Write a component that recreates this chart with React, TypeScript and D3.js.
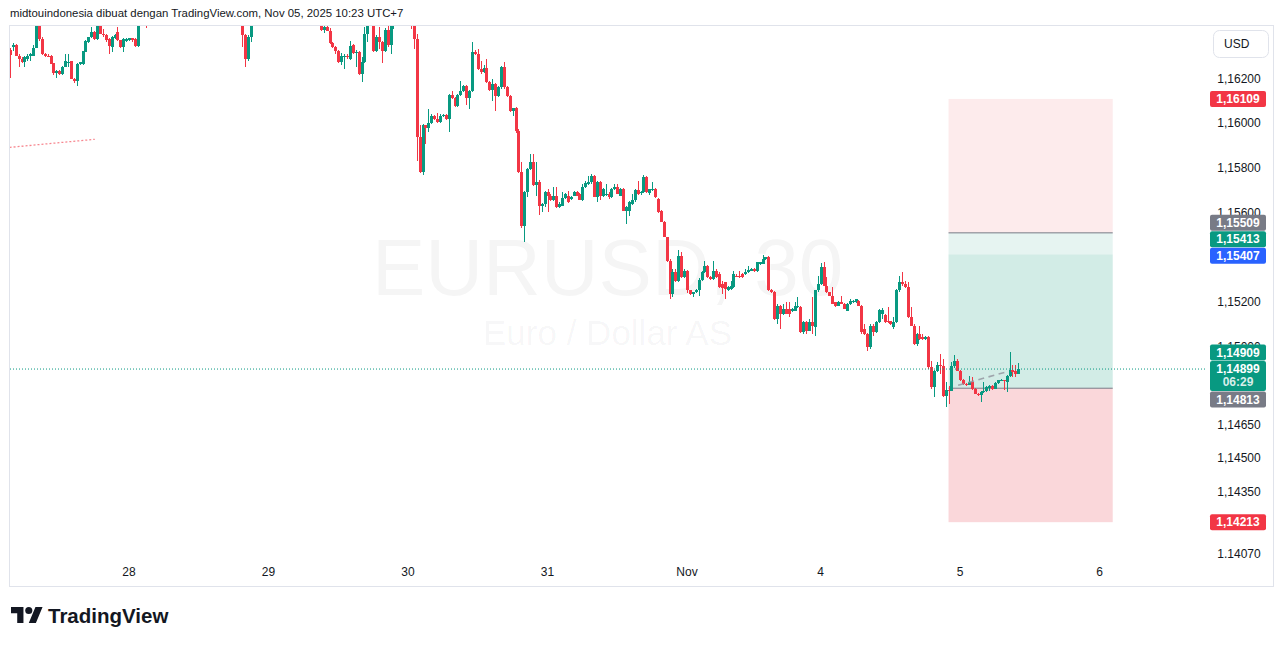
import React from 'react';
import * as d3 from 'd3';

// Each bar: [open, high, low, close] in points (1e-5) above BASE, 30-minute bars
type Bar = [number, number, number, number];
const BASE = 1.14;
const POINT = 0.00001;

const oct27: Bar[] = [
  [2330,2335,2203,2305],[2340,2358,2322,2352],[2352,2355,2300,2303],[2303,2311,2251,2290],[2290,2296,2270,2273],
  [2273,2300,2254,2296],[2288,2311,2281,2303],[2303,2315,2281,2311],[2303,2350,2300,2338],[2338,2460,2335,2440],
  [2440,2450,2370,2378],[2378,2385,2305,2311],[2311,2315,2296,2300],[2303,2308,2296,2300],[2303,2306,2264,2266],
  [2268,2270,2215,2224],[2224,2240,2203,2236],[2236,2240,2218,2221],[2221,2256,2218,2254],[2254,2311,2250,2278],
  [2272,2311,2251,2276],[2278,2280,2196,2199],[2199,2203,2180,2188],[2188,2270,2169,2266],[2266,2276,2262,2273],
  [2266,2325,2262,2322],[2320,2375,2318,2370],[2365,2388,2360,2385],[2385,2430,2380,2407],[2407,2415,2375,2378],
  [2378,2460,2375,2445],[2445,2465,2398,2402],[2402,2420,2385,2395],[2395,2400,2365,2372],[2378,2382,2311,2348],
  [2340,2390,2318,2385],[2382,2400,2378,2397],[2407,2430,2370,2372],[2372,2375,2336,2340],[2340,2380,2318,2378],
  [2370,2383,2366,2378],
];
const oct28: Bar[] = [
  [2372,2383,2368,2380],[2380,2384,2365,2372],[2376,2380,2340,2345],[2345,2470,2340,2455],[2455,2480,2445,2470],
  [2470,2490,2455,2462],[2462,2470,2428,2450],[2450,2478,2440,2472],[2472,2495,2465,2488],[2488,2510,2480,2502],
  [2502,2515,2490,2495],[2495,2505,2480,2490],[2490,2512,2485,2508],[2508,2525,2500,2520],[2520,2530,2505,2512],
  [2512,2520,2495,2500],[2500,2515,2492,2510],[2510,2535,2505,2528],[2528,2545,2518,2538],[2538,2550,2525,2530],
  [2530,2540,2515,2520],[2520,2530,2505,2512],[2512,2522,2498,2505],[2505,2518,2495,2515],[2515,2530,2508,2525],
  [2525,2535,2510,2515],[2515,2520,2495,2500],[2500,2510,2485,2490],[2490,2505,2480,2498],[2498,2512,2490,2505],
  [2505,2515,2492,2495],[2495,2500,2475,2480],[2480,2492,2470,2488],[2488,2498,2478,2482],[2482,2490,2465,2470],
  [2470,2485,2462,2478],[2478,2488,2468,2472],[2472,2480,2455,2460],[2460,2470,2445,2452],[2452,2465,2340,2395],
  [2395,2400,2251,2288],[2288,2397,2278,2388],[2388,2465,2363,2450],[2450,2470,2440,2462],[2462,2480,2455,2475],
  [2475,2490,2465,2470],[2470,2485,2460,2480],[2480,2495,2472,2490],
];
const oct29: Bar[] = [
  [2490,2505,2480,2498],[2498,2510,2488,2495],[2495,2502,2478,2485],[2485,2498,2475,2492],[2492,2508,2485,2502],
  [2502,2515,2494,2508],[2508,2520,2495,2500],[2500,2510,2488,2492],[2492,2500,2478,2485],[2485,2495,2472,2478],
  [2478,2490,2468,2486],[2486,2496,2475,2480],[2480,2488,2465,2470],[2470,2482,2460,2476],[2476,2485,2462,2468],
  [2468,2478,2455,2462],[2462,2472,2450,2458],[2458,2468,2445,2450],[2450,2462,2412,2418],[2418,2440,2405,2430],
  [2430,2445,2412,2415],[2415,2425,2355,2358],[2358,2365,2338,2340],[2340,2348,2311,2325],[2325,2330,2268,2273],
  [2273,2313,2263,2303],[2296,2311,2244,2303],[2303,2308,2290,2296],[2290,2370,2284,2348],[2350,2355,2310,2313],
  [2313,2330,2251,2318],[2321,2325,2218,2221],[2221,2296,2184,2273],[2273,2430,2270,2400],[2400,2460,2363,2445],
  [2445,2475,2435,2465],[2465,2470,2320,2325],[2325,2395,2320,2388],[2388,2430,2333,2363],[2363,2370,2269,2325],
  [2325,2425,2320,2418],[2418,2440,2340,2352],[2352,2450,2311,2440],[2440,2465,2423,2458],[2458,2475,2445,2468],
  [2468,2485,2455,2475],[2475,2490,2460,2470],[2470,2480,2452,2462],
];
const oct30: Bar[] = [
  [2462,2478,2448,2455],[2455,2470,2420,2440],[2440,2448,2333,2378],[2378,2400,1833,1937],[1937,1990,1775,1780],
  [1780,1997,1769,1990],[1990,1993,1907,1977],[1977,2064,1963,2002],[2002,2040,1995,2034],[2034,2038,2015,2020],
  [2020,2046,2003,2007],[2007,2040,2003,2034],[2034,2042,2028,2037],[2037,2040,2015,2020],[2020,2130,1963,2127],
  [2127,2146,2108,2112],[2112,2116,2075,2079],[2079,2130,2075,2127],[2127,2191,2120,2146],[2146,2172,2140,2166],
  [2166,2170,2082,2112],[2112,2150,2064,2146],[2146,2366,2140,2321],[2321,2330,2305,2311],[2311,2334,2240,2244],
  [2244,2280,2222,2228],[2228,2260,2224,2246],[2246,2290,2180,2183],[2183,2188,2146,2151],[2151,2199,2101,2176],
  [2176,2180,2057,2124],[2124,2165,2118,2161],[2161,2256,2155,2251],[2251,2276,2155,2161],[2161,2166,2118,2124],
  [2124,2128,2050,2057],[2057,2070,2034,2067],[2067,2072,1957,1967],[1967,1972,1778,1783],[1783,1825,1529,1541],
  [1541,1698,1467,1691],[1691,1800,1668,1795],[1795,1863,1790,1825],[1825,1863,1720,1724],[1724,1825,1676,1739],
  [1739,1745,1590,1628],[1631,1642,1601,1639],[1639,1698,1624,1691],
];
const oct31: Bar[] = [
  [1691,1706,1601,1676],[1676,1684,1650,1654],[1654,1713,1650,1676],[1676,1713,1620,1624],[1624,1645,1620,1639],
  [1631,1691,1628,1666],[1666,1688,1662,1684],[1676,1698,1643,1646],[1660,1676,1655,1668],[1676,1698,1672,1691],
  [1691,1695,1672,1676],[1684,1688,1655,1657],[1657,1728,1650,1713],[1713,1743,1708,1731],[1728,1765,1722,1735],
  [1735,1773,1730,1765],[1765,1770,1668,1668],[1668,1740,1646,1735],[1735,1740,1654,1676],[1676,1710,1670,1706],
  [1680,1728,1676,1684],[1684,1690,1661,1668],[1668,1710,1665,1706],[1706,1728,1700,1716],[1716,1728,1682,1684],
  [1676,1710,1676,1706],[1706,1712,1606,1609],[1609,1628,1549,1624],[1609,1650,1586,1646],[1639,1684,1635,1657],
  [1657,1705,1646,1701],[1701,1743,1680,1684],[1686,1695,1680,1691],[1691,1769,1688,1758],[1758,1762,1688,1691],
  [1686,1706,1680,1706],[1701,1735,1698,1706],[1706,1710,1665,1668],[1661,1665,1598,1601],[1609,1610,1556,1556],
  [1556,1560,1489,1489],[1489,1492,1380,1385],[1385,1390,1213,1236],[1236,1345,1220,1332],[1332,1345,1288,1295],
  [1295,1430,1288,1407],[1407,1425,1305,1310],[1310,1345,1305,1340],
];
const nov1: Bar[] = [
  [1340,1342,1240,1251],[1251,1255,1230,1236],[1236,1245,1221,1243],[1243,1256,1238,1254],[1251,1305,1228,1300],
  [1300,1340,1295,1335],[1335,1385,1330,1362],[1362,1366,1305,1310],
];
const nov3: Bar[] = [
  [1310,1315,1300,1303],[1303,1385,1300,1340],[1340,1345,1305,1310],[1325,1335,1262,1265],[1280,1292,1236,1262],
  [1288,1290,1213,1258],[1253,1270,1248,1265],[1258,1295,1255,1273],[1265,1340,1262,1325],[1317,1325,1310,1313],
  [1317,1340,1305,1310],[1325,1330,1305,1310],[1325,1347,1320,1332],[1332,1362,1328,1343],[1340,1350,1336,1347],
  [1347,1350,1335,1340],[1340,1380,1335,1377],[1370,1380,1365,1377],[1370,1412,1368,1392],[1392,1402,1388,1400],
  [1400,1407,1250,1251],[1251,1258,1240,1243],[1243,1250,1120,1124],[1124,1190,1100,1183],[1183,1188,1079,1146],
  [1146,1191,1140,1168],[1168,1198,1145,1146],[1168,1198,1131,1146],[1161,1172,1155,1168],[1161,1198,1158,1183],
  [1176,1221,1172,1183],[1176,1183,1060,1064],[1064,1116,1056,1109],[1109,1115,1056,1071],[1071,1124,1068,1109],
  [1109,1221,1056,1094],[1086,1255,1049,1251],[1251,1317,1245,1280],
];
const nov4: Bar[] = [
  [1280,1373,1275,1358],[1358,1377,1270,1273],[1273,1310,1240,1243],[1243,1246,1226,1228],[1228,1265,1190,1191],
  [1198,1200,1176,1183],[1183,1206,1180,1198],[1198,1228,1189,1191],[1191,1195,1166,1168],[1161,1195,1158,1191],
  [1191,1211,1188,1206],[1198,1210,1195,1206],[1200,1213,1195,1211],[1206,1210,1180,1183],[1183,1188,1058,1064],
  [1079,1101,1052,1056],[1056,1060,982,996],[996,1099,990,1094],[1094,1101,1049,1064],[1064,1112,1060,1109],
  [1109,1170,1105,1164],[1146,1172,1124,1164],[1140,1144,1105,1109],[1116,1176,1105,1109],[1112,1116,1098,1101],
  [1086,1131,1080,1109],[1109,1258,1105,1253],[1253,1317,1245,1288],[1288,1332,1272,1280],[1280,1295,1262,1265],
  [1265,1290,1128,1131],[1131,1176,1092,1094],[1094,1101,1005,1012],[1012,1062,1004,1056],[1056,1093,1030,1034],
  [1041,1056,1030,1034],[1034,1045,1028,1041],[1041,1048,900,910],[910,937,810,817],[817,895,773,892],
  [892,929,885,919],[919,967,877,914],[914,944,773,780],[780,843,728,805],[805,825,743,800],
  [800,929,799,914],[914,964,905,934],[934,944,888,892],
];
const nov5: Bar[] = [
  [892,895,845,850],[850,855,828,832],[832,835,822,829],[829,869,826,839],[839,865,806,810],
  [810,812,785,788],[788,792,780,784],[784,800,750,795],[795,843,792,802],[802,822,798,820],
  [812,828,800,825],[825,829,806,810],[810,840,808,835],[835,852,830,850],[847,853,845,850],
  [850,852,805,845],[840,872,795,869],[869,977,865,895],[895,919,862,884],[890,919,865,877],
  [877,925,875,899],
];
const sessions: Bar[][] = [oct27, oct28, oct29, oct30, oct31, nov1, nov3, nov4, nov5];

// time axis
const dayLabels = ['28', '29', '30', '31', 'Nov', '4', '5', '6'];
const dayStartBars = [41, 89, 137, 185, 233, 279, 327, 375];

// price axis
const priceTicks = [1.162, 1.16, 1.158, 1.156, 1.152, 1.15, 1.1465, 1.145, 1.1435, 1.1407];
const lastPrice = 1.14899;
const countdown = '06:29';

// position tool drawing (levels from top to bottom) and its bar span
const positionLevels = [1.16109, 1.15509, 1.15413, 1.14813, 1.14213];
const positionBars = [323, 379.5];
const entryLevels = [1.15509, 1.14813];

// price-axis tags
const axisTags = [
  { price: 1.16109, kind: 'stop' },
  { price: 1.15509, kind: 'entry' },
  { price: 1.15413, kind: 'target' },
  { price: 1.15407, kind: 'alert' },
  { price: 1.14909, kind: 'target' },
  { price: 1.14899, kind: 'last' },
  { price: 1.14813, kind: 'entry' },
  { price: 1.14213, kind: 'stop' },
];

// other drawings: [bar, price]
const redTrend: [number, number][] = [[-0.1, 1.15892], [29.2, 1.15928]];
const grayTrend: [number, number][] = [[326.3, 1.14826], [343.4, 1.14888]];

const headerText = 'midtouindonesia dibuat dengan TradingView.com, Nov 05, 2025 10:23 UTC+7';
const symbolTitle = 'EURUSD, 30';
const symbolDescription = 'Euro / Dollar AS';
const currency = 'USD';

const UP = '#089981';
const DOWN = '#f23645';
const TEXT = '#131722';
const FONT = '"Liberation Sans", Arial, sans-serif';
const tagColors: Record<string, string> = { stop: '#f23645', entry: '#787b86', target: '#089981', alert: '#2962ff', last: '#089981' };
const zoneFills = ['#fdebec', '#e6f4f1', '#d2ece6', '#fad7da'];

const plot = { left: 10, right: 1205, top: 26, bottom: 558 };
const BAR_SPACING = 2.906;
const FIRST_X = 9.9;

const fmt = (p: number) => d3.format('.5f')(p).replace('.', ',');

export default function App() {
  const bars = sessions.flat().map(([o, h, l, c]) => ({
    o: BASE + o * POINT, h: BASE + h * POINT, l: BASE + l * POINT, c: BASE + c * POINT,
  }));
  const x = d3.scaleLinear().domain([0, bars.length - 1]).range([FIRST_X, FIRST_X + (bars.length - 1) * BAR_SPACING]);
  const y = d3.scaleLinear().domain([1.1407, 1.162]).range([554.1, 78.6]);

  // tag layout: anchors stay, others stacked away from nearest anchor
  const tags = axisTags.map((t) => {
    const cy = y(t.price);
    const h = t.kind === 'last' ? 30 : 16;
    return { ...t, cy, h, top: cy - 8 };
  });
  const anchors = tags.filter((t) => t.kind === 'last' || t.kind === 'alert');
  const others = tags.filter((t) => !anchors.includes(t));
  anchors.forEach((a) => {
    const mine = others.filter((t) => {
      const best = anchors.reduce((b, q) => (Math.abs(q.cy - t.cy) < Math.abs(b.cy - t.cy) ? q : b));
      return best === a;
    });
    let edge = a.top;
    mine.filter((t) => t.cy < a.cy).sort((p, q) => q.cy - p.cy).forEach((t) => {
      t.top = Math.min(t.top, edge - t.h - 0.5);
      edge = t.top;
    });
    edge = a.top + a.h;
    mine.filter((t) => t.cy >= a.cy).sort((p, q) => p.cy - q.cy).forEach((t) => {
      t.top = Math.max(t.top, edge + 0.5);
      edge = t.top + t.h;
    });
  });

  const line = d3.line<[number, number]>().x((d) => x(d[0])).y((d) => y(d[1]));
  const px0 = x(positionBars[0]);
  const px1 = x(positionBars[1]);
  const cx = (plot.left + plot.right) / 2;

  return (
    <div style={{ position: 'absolute', left: 0, top: 0 }}>
      <svg width={1281} height={646} style={{ display: 'block', background: '#fff', fontFamily: FONT }}>
        <defs>
          <clipPath id="plotClip">
            <rect x={plot.left} y={plot.top} width={plot.right - plot.left} height={plot.bottom - plot.top} />
          </clipPath>
          <clipPath id="axisClip">
            <rect x={plot.right} y={plot.top} width={1273 - plot.right} height={plot.bottom - plot.top} />
          </clipPath>
        </defs>

        <text x={10} y={17} fontSize={11.4} fill={TEXT}>{headerText}</text>

        <rect x={9.5} y={25.5} width={1264} height={561} fill="none" stroke="#e0e3eb" />

        <g clipPath="url(#plotClip)">
          <text x={cx} y={295} textAnchor="middle" fontSize={80} fill="rgba(19,23,34,0.045)">{symbolTitle}</text>
          <text x={cx} y={345} textAnchor="middle" fontSize={35} fill="rgba(19,23,34,0.045)">{symbolDescription}</text>

          {zoneFills.map((f, k) => (
            <rect key={k} x={px0} width={px1 - px0} y={y(positionLevels[k])}
              height={y(positionLevels[k + 1]) - y(positionLevels[k])} fill={f} />
          ))}
          {entryLevels.map((p, k) => (
            <line key={k} x1={px0} x2={px1} y1={y(p)} y2={y(p)} stroke="#787b86" strokeWidth={1} />
          ))}

          <path d={line(redTrend) || ''} fill="none" stroke={DOWN} strokeOpacity={0.6} strokeWidth={1.3} strokeDasharray="2 2" />

          {bars.map((b, i) => {
            const col = b.c >= b.o ? UP : DOWN;
            const xr = Math.round(x(i));
            const top = y(Math.max(b.o, b.c));
            const bh = Math.max(1, y(Math.min(b.o, b.c)) - top);
            return (
              <g key={i} shapeRendering="crispEdges">
                <rect x={xr} width={1} y={y(b.h)} height={Math.max(1, y(b.l) - y(b.h))} fill={col} />
                <rect x={xr - 1} width={3} y={top} height={bh} fill={col} />
              </g>
            );
          })}

          <path d={line(grayTrend) || ''} fill="none" stroke="#9598a1" strokeOpacity={0.85} strokeWidth={1.6} strokeDasharray="6 4.5" />

          <line x1={plot.left} x2={plot.right} y1={y(lastPrice)} y2={y(lastPrice)} stroke={UP} strokeWidth={1} strokeDasharray="1 2" />
        </g>

        {/* price axis */}
        <g clipPath="url(#axisClip)">
          {priceTicks.map((p) => (
            <text key={p} x={1239} y={y(p)} dy="0.35em" textAnchor="middle" fontSize={12} fill={TEXT}>{fmt(p)}</text>
          ))}
          {tags.map((t, k) => (
            <g key={k}>
              <rect x={1210} y={t.top} width={56} height={t.h} rx={2} fill={tagColors[t.kind]} />
              <text x={1238} y={t.top + 8} dy="0.35em" textAnchor="middle" fontSize={12} fontWeight="bold" fill="#fff">{fmt(t.price)}</text>
              {t.kind === 'last' && (
                <text x={1238} y={t.top + 21} dy="0.35em" textAnchor="middle" fontSize={12} fontWeight="bold" fill="#fff" fillOpacity={0.85}>{countdown}</text>
              )}
            </g>
          ))}
        </g>

        <rect x={1213.5} y={30.5} width={55} height={27} rx={6} fill="#fff" stroke="#e0e3eb" />
        <text x={1224} y={44} dy="0.35em" fontSize={12} fill={TEXT}>{currency}</text>

        {/* time axis */}
        {dayLabels.map((d, k) => (
          <text key={d} x={x(dayStartBars[k])} y={572} dy="0.35em" textAnchor="middle" fontSize={12} fill={TEXT}>{d}</text>
        ))}

        {/* logo */}
        <g transform="translate(11,603.4) scale(0.889)" fill={TEXT}>
          <path d="M14 22H7V11H0V4h14v18zM28 22h-8l7.5-18h8L28 22z" />
          <circle cx={20} cy={8} r={4} />
        </g>
        <text x={48} y={622.5} fontSize={20.5} fontWeight="bold" fill={TEXT}>TradingView</text>
      </svg>
    </div>
  );
}
